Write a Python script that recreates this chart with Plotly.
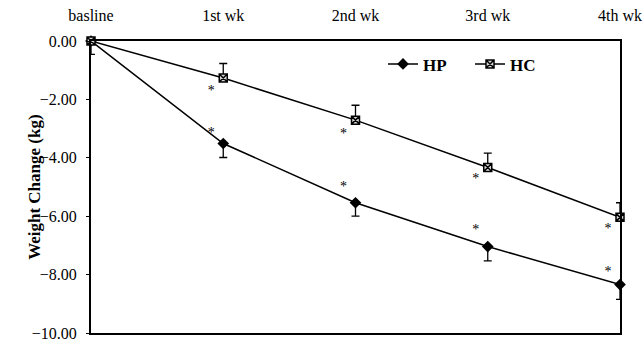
import plotly.graph_objects as go

categories = ["basline", "1st wk", "2nd wk", "3rd wk", "4th wk"]
hp_values = [0.0, -3.51, -5.54, -7.04, -8.34]
hc_values = [0.0, -1.27, -2.71, -4.33, -6.04]
hp_sd = [0.46, 0.48, 0.46, 0.49, 0.51]
hc_sd = [0.0, 0.50, 0.51, 0.49, 0.50]
hp_star_y = [None, -3.03, -4.89, -6.37, -7.81]
hc_star_y = [None, -1.59, -3.06, -4.61, -6.34]
y_ticks = [0, -2, -4, -6, -8, -10]

xpos = list(range(len(categories)))
star_dx = -0.09      # asterisks sit just left of each point
star_dy = -0.13      # small shift so the "*" glyph centre sits on its value
FONT = "Liberation Serif"

fig = go.Figure()
fig.add_trace(go.Scatter(
    x=xpos, y=hp_values, name="HP", mode="lines+markers",
    line=dict(color="black", width=1.5),
    marker=dict(symbol="diamond", size=9, color="black"),
    error_y=dict(type="data", symmetric=False, array=[0] * 5, arrayminus=hp_sd,
                 color="black", thickness=1.3, width=4),
    cliponaxis=False))
fig.add_trace(go.Scatter(
    x=xpos, y=hc_values, name="HC", mode="lines+markers",
    line=dict(color="black", width=1.5),
    marker=dict(symbol="square-x", size=8, color="#d8d8d8",
                line=dict(color="black", width=1.5)),
    error_y=dict(type="data", symmetric=False, array=hc_sd, arrayminus=[0] * 5,
                 color="black", thickness=1.3, width=4),
    cliponaxis=False))

for ys in (hp_star_y, hc_star_y):
    xs = [x + star_dx for x, y in zip(xpos, ys) if y is not None]
    yy = [y + star_dy for y in ys if y is not None]
    fig.add_trace(go.Scatter(
        x=xs, y=yy, mode="text", text=["*"] * len(xs), showlegend=False,
        textposition="middle center",
        textfont=dict(family=FONT, size=14, color="black"),
        cliponaxis=False, hoverinfo="skip"))

fig.update_layout(
    width=644, height=342,
    margin=dict(l=91, r=24, t=41, b=9),
    paper_bgcolor="white", plot_bgcolor="white",
    font=dict(family=FONT, color="black", size=15),
    showlegend=True,
    legend=dict(orientation="h", x=0.552, y=0.92, xanchor="left", yanchor="middle",
                font=dict(family=FONT, size=17, color="black", weight="bold"),
                bgcolor="rgba(0,0,0,0)", itemwidth=30, entrywidth=42,
                entrywidthmode="pixels", tracegroupgap=0),
    xaxis=dict(range=[0, 4], side="top", tickmode="array", tickvals=xpos,
               ticktext=categories, showgrid=False, zeroline=False,
               showline=True, linecolor="black", linewidth=2, mirror=True,
               ticks="", tickfont=dict(size=16), ticklabelstandoff=12,
               automargin=False),
    yaxis=dict(range=[-10, 0], tickmode="array", tickvals=y_ticks,
               tickformat=".2f", showgrid=False, zeroline=False,
               showline=True, linecolor="black", linewidth=2, mirror=True,
               ticks="outside", ticklen=3, tickcolor="black",
               tickfont=dict(size=16), ticklabelstandoff=6,
               ticklabeloverflow="allow", automargin=False),
    annotations=[dict(text="<b>Weight Change (kg)</b>", textangle=-90,
                      xref="paper", yref="paper", x=-0.108, y=0.5,
                      xanchor="center", yanchor="middle", showarrow=False,
                      font=dict(family=FONT, size=17, color="black"))],
)

# remove the browser's default 8px page margin so the figure fills the window exactly
fig.write_html("out.html", config={"displayModeBar": False},
               post_script="document.body.style.margin='0';document.body.style.overflow='hidden';")
